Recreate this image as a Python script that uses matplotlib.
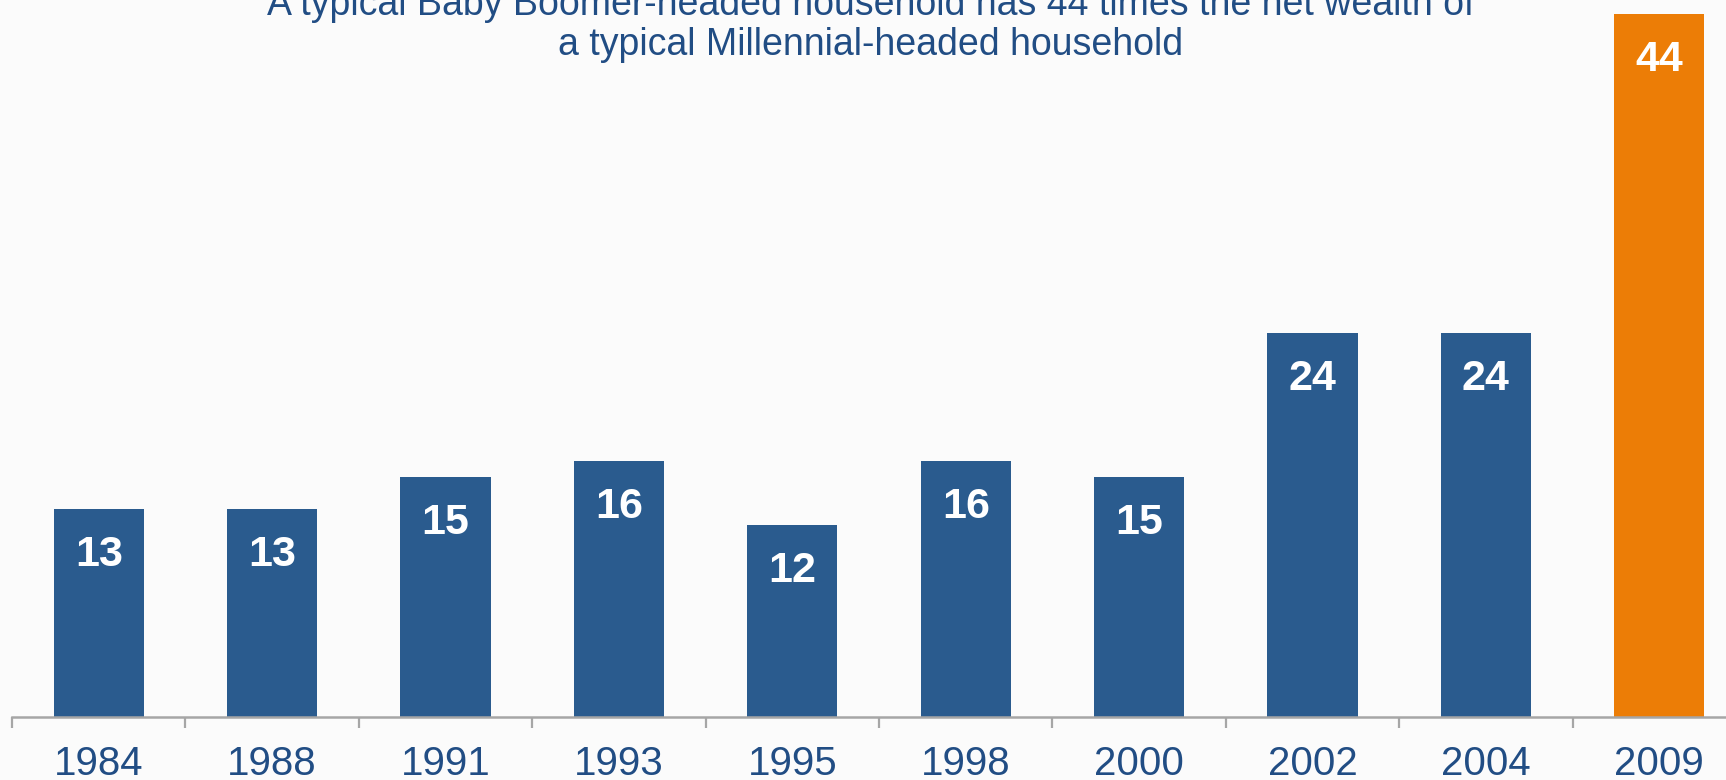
import numpy as np
import matplotlib
matplotlib.use("Agg")
import matplotlib.pyplot as plt
from matplotlib.ticker import FixedLocator

plt.rcParams['font.family'] = ['Liberation Sans', 'DejaVu Sans']

# data
years = ["1984", "1988", "1991", "1993", "1995", "1998", "2000", "2002", "2004", "2009"]
ratio = [13, 13, 15, 16, 12, 16, 15, 24, 24, 44]
title = ("A typical Baby Boomer-headed household has 44 times the net wealth of\n"
         "a typical Millennial-headed household")

blue = "#2A5B8E"
orange = "#EC7D06"
txt_blue = "#214D84"

fig = plt.figure(figsize=(17.26, 7.8), dpi=100)
fig.patch.set_facecolor("#FBFBFB")
# axes runs a little past the right edge, like the reference
ax = fig.add_axes([12/1726, 63/780, 1734/1726, 717/780])
ax.patch.set_alpha(0)

x = np.arange(len(years))
colors = [blue]*(len(years)-1) + [orange]
ax.bar(x, ratio, width=0.52, color=colors, zorder=2)

for xi, v in zip(x, ratio):
    ax.annotate(str(v), (xi, v), xytext=(0, -33), textcoords="offset points",
                ha="center", va="center", color="white", fontsize=31, fontweight="bold")

ax.set_xlim(-0.5, len(years)-0.5)
ax.set_ylim(0, 44.87)

for s in ["top", "right", "left"]:
    ax.spines[s].set_visible(False)
ax.spines["bottom"].set_color("#A6A6A6")
ax.spines["bottom"].set_linewidth(1.8)
ax.set_yticks([])

ax.set_xticks(x)
ax.set_xticklabels(years, fontsize=29, color=txt_blue)
ax.tick_params(axis="x", which="major", length=0, pad=20)
ax.xaxis.set_minor_locator(FixedLocator(np.arange(-0.5, len(years), 1.0)))
ax.tick_params(axis="x", which="minor", length=8, width=1.6, color="#A6A6A6")

# title is partly cut off at the top, as in the reference
fig.text(871/1726, 1-25/780, title, ha="center", va="center", fontsize=27,
         color=txt_blue, linespacing=1.12)

fig.savefig("out.png", dpi=100, facecolor=fig.get_facecolor())
